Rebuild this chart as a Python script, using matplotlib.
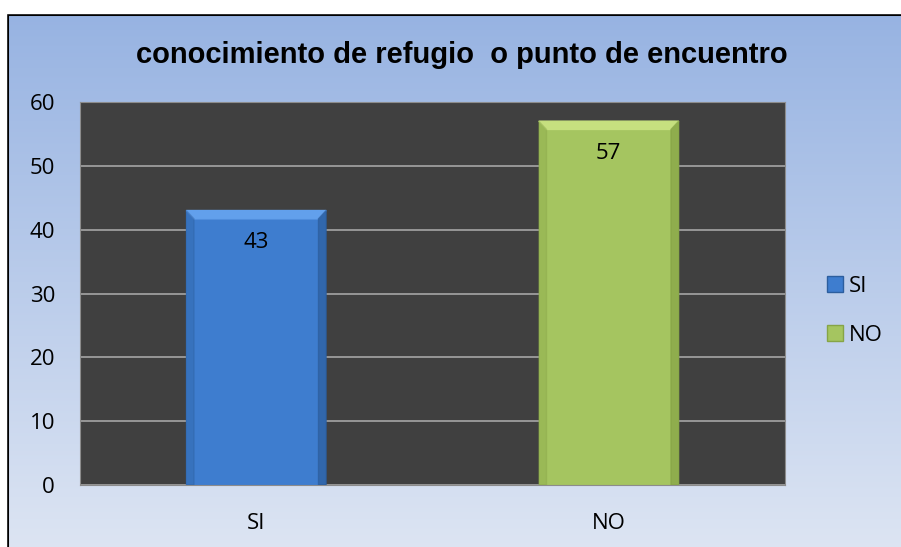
import numpy as np
import matplotlib.pyplot as plt
from matplotlib.patches import Polygon, Rectangle
from matplotlib.lines import Line2D

categories = ["SI", "NO"]
values = [43, 57]
face_colors = ["#3E7DCF", "#A5C560"]
light_colors = ["#62A0EC", "#C6E07F"]
dark_colors = ["#2C5E9E", "#86A446"]
title = "conocimiento de refugio  o punto de encuentro"
yticks = [0, 10, 20, 30, 40, 50, 60]

W, H = 901, 547
fig = plt.figure(figsize=(W / 100, H / 100), dpi=100)
fig.patch.set_facecolor("white")

# gradient background in its own axes, black frame round it
bg = fig.add_axes([7 / W, -0.01, 1, 1 - 14 / H + 0.01], zorder=0)
grad = np.linspace(0, 1, 256).reshape(-1, 1)
top = np.array([0x97, 0xB3, 0xE2]) / 255
bot = np.array([0xDD, 0xE5, 0xF3]) / 255
img = top + (bot - top) * grad[:, :, None]
bg.imshow(img, aspect="auto", extent=[0, 1, 0, 1])
bg.set_xticks([])
bg.set_yticks([])
for s in bg.spines.values():
    s.set_linewidth(2.2)
    s.set_color("black")

# white margin above and left of the frame
fig.add_artist(Rectangle((0, 1 - 13 / H), 1, 13 / H, transform=fig.transFigure,
                         color="white", zorder=5))
fig.add_artist(Rectangle((0, 0), 6 / W, 1, transform=fig.transFigure,
                         color="white", zorder=5))

fig.text(462 / W, 1 - 55 / H, title, ha="center", va="center",
         fontsize=21, fontweight="bold", family="Liberation Sans")

font = "Open Sans"
fs = 16
ax = fig.add_axes([80 / W, 1 - 485 / H, 705 / W, 383 / H], zorder=1)
ax.set_facecolor("#404040")
x = np.arange(len(categories))
width = 0.397
ax.set_xlim(-0.5, 1.5)
ax.set_ylim(0, 60)
ax.set_yticks(yticks)
ax.yaxis.grid(True, color="#A6A6A6", lw=1.2)
ax.set_axisbelow(True)
for s in ax.spines.values():
    s.set_color("#8C8C8C")
ax.tick_params(length=0, labelsize=fs)
ax.tick_params(axis="y", pad=18)
ax.tick_params(axis="x", pad=20)
ax.set_xticks(x)
ax.set_xticklabels(categories, family=font)
for lab in ax.get_yticklabels():
    lab.set_family(font)

bars = ax.bar(x, values, width, color=face_colors, zorder=2)
bev_x = 0.022
bev_y = 1.3
for b, lc, dc, v in zip(bars, light_colors, dark_colors, values):
    x0, x1 = b.get_x(), b.get_x() + b.get_width()
    h = b.get_height()
    ax.add_patch(Polygon([(x0, h), (x1, h), (x1 - bev_x, h - bev_y),
                          (x0 + bev_x, h - bev_y)], color=lc, zorder=3))
    ax.add_patch(Polygon([(x0, 0), (x0, h), (x0 + bev_x, h - bev_y),
                          (x0 + bev_x, 0)], color=dc, alpha=0.35, zorder=3))
    ax.add_patch(Polygon([(x1, 0), (x1, h), (x1 - bev_x, h - bev_y),
                          (x1 - bev_x, 0)], color=dc, alpha=0.7, zorder=3))
    ax.text(b.get_x() + b.get_width() / 2, h - 5, str(v), ha="center",
            va="center", fontsize=fs, family=font, zorder=4)

handles = [Line2D([], [], marker="s", ls="", markersize=12,
                  markerfacecolor=c, markeredgecolor=d)
           for c, d in zip(face_colors, dark_colors)]
fig.legend(handles, categories, loc="center left",
           bbox_to_anchor=(813 / W, 1 - 311 / H), frameon=False,
           prop={"family": font, "size": fs}, handletextpad=0.0,
           labelspacing=1.25, handlelength=1.2, borderaxespad=0)

fig.savefig("out.png", dpi=100)
